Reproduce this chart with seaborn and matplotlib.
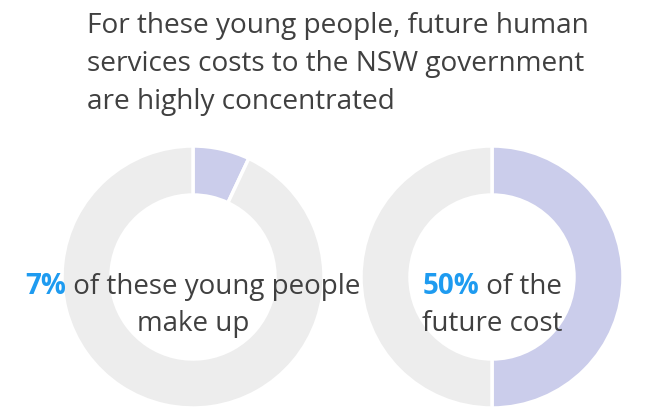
import matplotlib.pyplot as plt
import seaborn as sns
from matplotlib.offsetbox import TextArea, HPacker, VPacker, AnnotationBbox

# data
labels = ["Young people", "Future cost"]
share = [7, 50]
line1_rest = [" of these young people", " of the"]
line2 = ["make up", "future cost"]
title_lines = ["For these young people, future human",
               "services costs to the NSW government",
               "are highly concentrated"]

highlight = "#CBCDEB"
rest = "#EDEDED"
blue = "#1E9BF0"
grey = "#404040"

sns.set_theme(style="white")
plt.rcParams["font.family"] = ["Open Sans", "DejaVu Sans"]

fig = plt.figure(figsize=(6.46, 4.07), dpi=100)
ax = fig.add_axes([0, 0, 1, 1])

centers = [(193, 130), (492, 130)]
for i, pct in enumerate(share):
    ax.pie([pct, 100 - pct], colors=[highlight, rest], center=centers[i],
           radius=131, startangle=90, counterclock=False,
           wedgeprops=dict(width=49, edgecolor="white", linewidth=2.5))

    t_pct = TextArea(f"{pct}%", textprops=dict(color=blue, fontsize=20, fontweight="bold"))
    t_rest = TextArea(line1_rest[i], textprops=dict(color=grey, fontsize=20))
    row1 = HPacker(children=[t_pct, t_rest], align="baseline", pad=0, sep=0)
    row2 = TextArea(line2[i], textprops=dict(color=grey, fontsize=20))
    box = VPacker(children=[row1, row2], align="center", pad=0, sep=6)
    ab = AnnotationBbox(box, (centers[i][0], 102), frameon=False,
                        box_alignment=(0.5, 0.5))
    ax.add_artist(ab)

ax.set_xlim(0, 646)
ax.set_ylim(0, 407)
ax.set_aspect("equal")
ax.axis("off")

for k, line in enumerate(title_lines):
    ax.text(87, 407 - 33 - 38 * k, line, ha="left", va="baseline",
            fontsize=20.2, color=grey)

fig.savefig("out.png", dpi=100)
